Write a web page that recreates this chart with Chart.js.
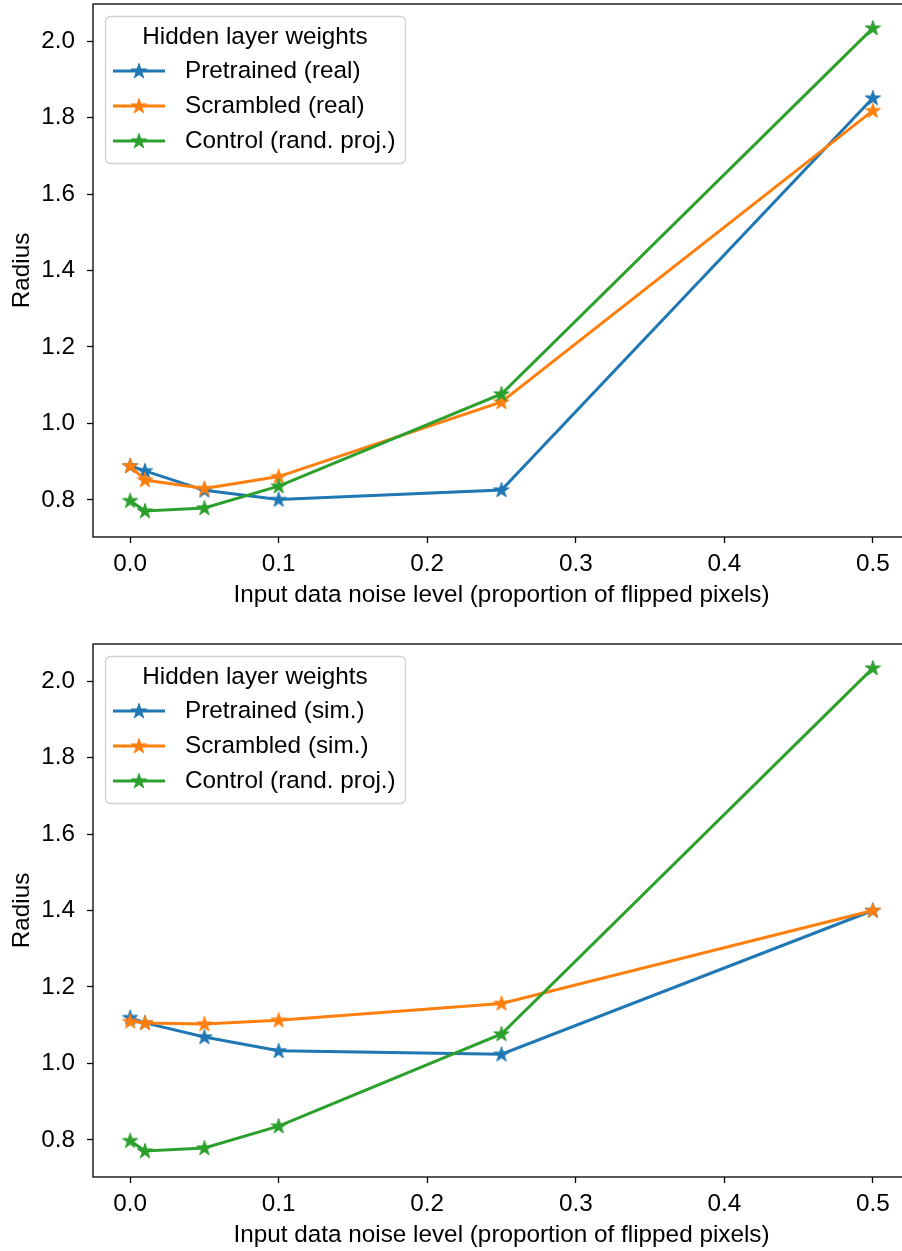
<!DOCTYPE html>
<html>
<head>
<meta charset="utf-8">
<script src="https://cdn.jsdelivr.net/npm/chart.js@4.4.1/dist/chart.umd.min.js"></script>
<style>
    body { margin: 0; width: 902px; height: 1251px; overflow: hidden; background: white; position: relative; }
    .panel { position: absolute; left: 0; width: 920px; height: 622px; }
</style>
</head>
<body>
<div class="panel" style="top:0px"><canvas id="chartReal" width="920" height="622"></canvas></div>
<div class="panel" style="top:640px"><canvas id="chartSim" width="920" height="622"></canvas></div>
<script>
// noise levels (proportion of flipped pixels)
const noiseLevels = [0, 0.01, 0.05, 0.1, 0.25, 0.5];

const pretrainedReal = [0.889, 0.876, 0.825, 0.801, 0.826, 1.851];
const scrambledReal = [0.889, 0.852, 0.830, 0.861, 1.056, 1.818];
const controlReal = [0.798, 0.771, 0.779, 0.836, 1.077, 2.034];

const pretrainedSim = [1.120, 1.106, 1.069, 1.033, 1.024, 1.400];
const scrambledSim = [1.110, 1.106, 1.103, 1.113, 1.157, 1.400];
const controlSim = [0.798, 0.771, 0.779, 0.836, 1.077, 2.034];

const labelsReal = ['Pretrained (real)', 'Scrambled (real)', 'Control (rand. proj.)'];
const labelsSim = ['Pretrained (sim.)', 'Scrambled (sim.)', 'Control (rand. proj.)'];
const legendTitle = 'Hidden layer weights';

const xTicks = [0, 0.1, 0.2, 0.3, 0.4, 0.5];
const yTicks = [0.8, 1.0, 1.2, 1.4, 1.6, 1.8, 2.0];

const xTitle = 'Input data noise level (proportion of flipped pixels)';
const yTitle = 'Radius';

const colors = ['#1f77b4', '#ff7f0e', '#2ca02c'];
const fontSize = 24.3;

Chart.defaults.font.family = '"Liberation Sans", Arial, sans-serif';
Chart.defaults.color = '#000';

function make_star(color) {
    const c = document.createElement('canvas');
    c.width = 18;
    c.height = 18;
    const g = c.getContext('2d');
    const R = 8, r = R * 0.382;
    g.beginPath();
    for (let i = 0; i < 10; i++) {
        const rad = i % 2 === 0 ? R : r;
        const a = -Math.PI / 2 + i * Math.PI / 5;
        const px = 9 + rad * Math.cos(a);
        const py = 9.4 + rad * Math.sin(a);
        if (i === 0) g.moveTo(px, py); else g.lineTo(px, py);
    }
    g.closePath();
    g.fillStyle = color;
    g.fill();
    g.lineWidth = 1;
    g.strokeStyle = color;
    g.stroke();
    return c;
}

const stars = colors.map(make_star);

// frame + legend drawn inside the plot area
const framePlugin = {
    id: 'frameAndLegend',
    afterDatasetsDraw(chart) {
        const ctx = chart.ctx;
        const a = chart.chartArea;
        ctx.save();
        ctx.strokeStyle = '#000';
        ctx.lineWidth = 1.3;
        ctx.strokeRect(a.left, a.top, a.right - a.left, a.bottom - a.top);

        // legend box
        const bx = a.left + 12, by = a.top + 12, bw = 300, bh = 147;
        ctx.beginPath();
        ctx.roundRect(bx + 0.5, by + 0.5, bw, bh, 5);
        ctx.fillStyle = 'rgba(255,255,255,0.8)';
        ctx.fill();
        ctx.strokeStyle = '#d0d0d0';
        ctx.lineWidth = 1.3;
        ctx.stroke();

        ctx.fillStyle = '#000';
        ctx.font = fontSize + 'px "Liberation Sans", Arial, sans-serif';
        ctx.textAlign = 'center';
        ctx.textBaseline = 'middle';
        ctx.fillText(legendTitle, bx + 150, by + 21);

        const rows = [by + 55, by + 90, by + 125];
        chart.data.datasets.forEach((ds, i) => {
            const y = rows[i];
            ctx.strokeStyle = colors[i];
            ctx.lineWidth = 3;
            ctx.beginPath();
            ctx.moveTo(bx + 8, y);
            ctx.lineTo(bx + 60, y);
            ctx.stroke();
            ctx.drawImage(stars[i], bx + 34 - 9, y - 9);
            ctx.fillStyle = '#000';
            ctx.textAlign = 'left';
            ctx.fillText(ds.label, bx + 80, y);
        });
        ctx.restore();
    }
};

function build_chart(id, series, labels) {
    const ctx = document.getElementById(id).getContext('2d');
    return new Chart(ctx, {
        type: 'line',
        data: {
            datasets: series.map((vals, i) => ({
                label: labels[i],
                data: noiseLevels.map((x, j) => ({x: x, y: vals[j]})),
                borderColor: colors[i],
                backgroundColor: colors[i],
                borderWidth: 3,
                pointStyle: stars[i],
                pointRadius: 9,
                tension: 0,
                fill: false,
                order: series.length - i   // later series on top, like matplotlib
            }))
        },
        options: {
            responsive: false,
            animation: false,
            devicePixelRatio: 1,
            layout: {
                autoPadding: false,
                padding: {top: 4, left: 0, right: 10, bottom: 0}
            },
            plugins: {
                legend: {display: false},
                tooltip: {enabled: false}
            },
            scales: {
                x: {
                    type: 'linear',
                    min: -0.025,
                    max: 0.525,
                    afterBuildTicks: (scale) => { scale.ticks = xTicks.map(v => ({value: v})); },
                    afterFit: (scale) => {
                        scale.height = 85;
                        scale.paddingLeft = 0;
                        scale.paddingRight = 0;
                    },
                    ticks: {
                        font: {size: fontSize},
                        padding: 7,
                        maxRotation: 0,
                        callback: (v) => v.toFixed(1)
                    },
                    grid: {
                        drawOnChartArea: false,
                        drawTicks: true,
                        tickLength: 6,
                        tickWidth: 1.3,
                        tickColor: '#000'
                    },
                    border: {display: false},
                    title: {
                        display: true,
                        text: xTitle,
                        font: {size: fontSize},
                        padding: {top: 0, bottom: 12}
                    }
                },
                y: {
                    type: 'linear',
                    min: 0.703,
                    max: 2.097,
                    afterBuildTicks: (scale) => { scale.ticks = yTicks.map(v => ({value: v})); },
                    afterFit: (scale) => {
                        scale.width = 93;
                        scale.paddingTop = 0;
                        scale.paddingBottom = 0;
                    },
                    ticks: {
                        font: {size: fontSize},
                        padding: 12,
                        callback: (v) => v.toFixed(1)
                    },
                    grid: {
                        drawOnChartArea: false,
                        drawTicks: true,
                        tickLength: 6,
                        tickWidth: 1.3,
                        tickColor: '#000'
                    },
                    border: {display: false},
                    title: {
                        display: true,
                        text: yTitle,
                        font: {size: fontSize},
                        padding: {top: 8, bottom: 0}
                    }
                }
            }
        },
        plugins: [framePlugin]
    });
}

build_chart('chartReal', [pretrainedReal, scrambledReal, controlReal], labelsReal);
build_chart('chartSim', [pretrainedSim, scrambledSim, controlSim], labelsSim);
</script>
</body>
</html>
